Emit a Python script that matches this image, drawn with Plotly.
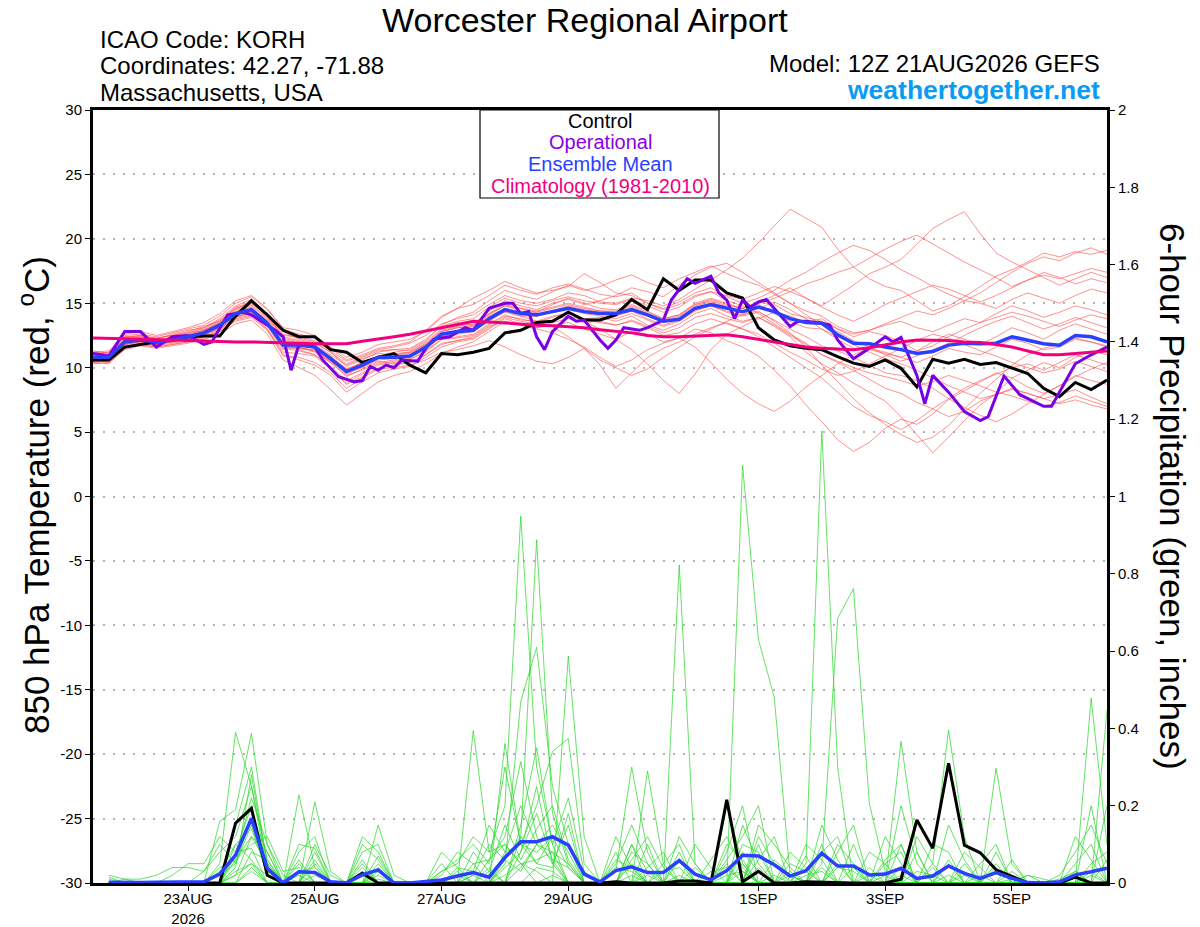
import pandas as pd
import plotly.graph_objects as go

# GEFS run 12Z 21AUG2026, 6-hourly steps out to 384h
run_start = pd.Timestamp("2026-08-21 12:00")
n_steps = 65

tick_dates = ["2026-08-23", "2026-08-25", "2026-08-27", "2026-08-29",
              "2026-09-01", "2026-09-03", "2026-09-05"]
tick_labels = ["23AUG<br>2026", "25AUG", "27AUG", "29AUG", "1SEP", "3SEP", "5SEP"]

temp_ticks = [-30, -25, -20, -15, -10, -5, 0, 5, 10, 15, 20, 25, 30]

# 850 hPa temperature (C), steps 0..64
control_temp = [
    10.6, 10.6, 11.6, 11.8, 12.0, 12.2, 12.4, 12.45, 12.45, 14.0,
    15.2, 14.1, 12.9, 12.4, 12.4, 11.4, 11.2, 10.4, 10.8, 11.1,
    10.2, 9.6, 11.1, 11.0, 11.2, 11.5, 12.7, 12.9, 13.5, 13.6,
    14.3, 13.7, 13.7, 14.1, 15.3, 14.5, 16.9, 16.0, 16.8, 16.8,
    15.8, 15.4, 13.1, 12.15, 11.7, 11.5, 11.4, 10.85, 10.35, 10.1,
    10.6, 9.95, 8.5, 10.65, 10.35, 10.65, 10.25, 10.4, 9.95, 9.55,
    8.4, 7.75, 8.85, 8.3, 9.05,
]

mean_temp = [
    10.8, 10.8, 12.0, 12.15, 12.0, 12.15, 12.4, 12.7, 13.3, 14.2,
    14.5, 13.45, 11.75, 11.75, 11.6, 10.7, 9.7, 10.2, 10.8, 10.8,
    10.9, 11.6, 12.6, 12.8, 12.9, 13.8, 14.5, 14.2, 14.1, 14.35,
    14.6, 14.35, 14.2, 14.2, 14.5, 14.1, 13.6, 13.75, 14.6, 14.9,
    14.6, 14.35, 14.7, 14.35, 13.8, 13.5, 13.45, 12.55, 11.9, 11.85,
    11.6, 11.4, 11.1, 11.25, 11.75, 11.9, 11.85, 11.9, 12.4, 12.15,
    11.85, 11.75, 12.5, 12.4, 12.0,
]

clim_temp = [
    12.3, 12.3, 12.25, 12.2, 12.2, 12.15, 12.1, 12.05, 12.05, 12.0,
    12.0, 11.95, 11.9, 11.9, 11.85, 11.85, 11.85, 12.05, 12.2, 12.4,
    12.6, 12.85, 13.05, 13.3, 13.6, 13.55, 13.45, 13.35, 13.3, 13.25,
    13.2, 13.1, 12.95, 12.85, 12.7, 12.5, 12.4, 12.4, 12.45, 12.55,
    12.55, 12.4, 12.2, 12.0, 11.75, 11.6, 11.5, 11.45, 11.4, 11.55,
    11.8, 12.0, 12.15, 12.15, 12.1, 12.0, 11.95, 11.8, 11.6, 11.3,
    11.0, 11.0, 11.1, 11.2, 11.3,
]

# operational run has its own (finer) output hours
op_hours = [
    0, 6, 12, 18, 24, 30, 36, 42, 45, 51, 57, 60, 69, 72, 75, 78, 84, 87,
    93, 99, 102, 105, 108, 111, 114, 117, 123, 126, 129, 135, 141, 144,
    150, 156, 159, 162, 165, 168, 171, 174, 180, 183, 186, 192, 195, 198,
    201, 207, 210, 216, 219, 225, 228, 234, 237, 240, 243, 246, 249, 252,
    255, 261, 264, 267, 270, 276, 279, 282, 288, 294, 300, 303, 306, 312,
    315, 318, 324, 330, 336, 339, 345, 351, 360, 363, 372, 378, 384,
]
op_temp = [
    11.1, 10.9, 12.8, 12.8, 11.6, 12.4, 12.5, 11.8, 12.0, 14.1, 14.3, 14.1,
    12.9, 12.4, 9.8, 11.8, 11.6, 10.6, 9.3, 8.9, 9.0, 10.1, 9.8, 10.2,
    10.0, 10.6, 10.5, 11.5, 12.2, 12.4, 13.1, 12.9, 14.6, 15.0, 15.0, 14.2,
    14.35, 12.4, 11.4, 12.8, 14.0, 13.6, 13.7, 12.15, 11.5, 12.15, 13.1,
    12.9, 13.1, 13.7, 15.25, 16.9, 16.55, 17.1, 15.8, 15.25, 13.8, 15.25,
    14.7, 15.1, 15.3, 13.95, 13.2, 13.6, 13.6, 13.45, 13.3, 12.15, 10.7,
    11.5, 12.4, 12.0, 12.35, 9.4, 7.2, 9.4, 8.1, 6.6, 5.9, 6.2, 9.35, 7.9,
    7.0, 7.0, 10.3, 11.0, 11.6,
]

temp_members = [
    [11.2, 11.0, 12.3, 12.5, 12.2, 12.6, 12.9, 13.1, 13.8,
     14.8, 15.3, 14.0, 12.5, 12.4, 12.1, 11.3, 10.5,
     10.9, 11.4, 11.6, 11.9, 12.5, 13.4, 13.8, 14.1,
     14.9, 15.6, 15.2, 15.0, 15.3, 15.8, 15.6, 15.1,
     15.0, 15.4, 15.2, 14.8, 15.3, 16.1, 16.8, 17.6, 18.5,
     19.7, 21.0, 22.3, 21.6, 20.9, 19.2, 17.8, 16.9, 16.3,
     16.0, 15.2, 14.4, 14.8, 15.5, 16.3, 17.1, 17.6,
     18.2, 18.9, 18.6, 19.0, 18.8, 19.1],
    [10.4, 10.5, 11.6, 11.9, 11.7, 11.9, 12.1, 12.4, 12.9,
     13.8, 14.1, 13.0, 11.0, 10.6, 10.2, 9.4, 8.1,
     8.9, 9.6, 9.9, 10.1, 10.8, 11.6, 12.0, 12.2,
     13.0, 13.8, 13.4, 13.1, 13.3, 13.5, 13.0, 12.6,
     12.2, 12.8, 12.6, 12.0, 12.3, 13.0, 12.7, 12.1, 11.6,
     10.9, 9.8, 8.6, 7.1, 5.8, 4.4, 3.5, 4.2, 5.3,
     6.0, 5.6, 6.4, 7.5, 8.2, 8.9, 9.6, 9.2,
     8.5, 8.0, 8.6, 9.4, 9.0, 8.7],
    [11.0, 11.2, 12.4, 12.4, 12.3, 12.5, 12.8, 13.2, 13.6,
     14.6, 15.0, 14.2, 12.8, 12.2, 11.9, 11.2, 10.1,
     10.6, 11.2, 11.4, 11.3, 12.0, 13.0, 13.5, 13.3,
     14.2, 14.8, 14.6, 14.3, 14.9, 15.4, 15.0, 14.6,
     14.5, 14.9, 14.4, 13.8, 14.1, 15.0, 15.4, 15.0, 14.6,
     15.1, 15.6, 16.2, 15.4, 14.8, 15.6, 16.4, 17.3, 17.8,
     18.4, 19.6, 20.8, 21.5, 22.1, 20.4, 18.9, 18.2,
     17.6, 17.0, 16.4, 16.9, 17.4, 17.0],
    [10.6, 10.7, 11.8, 12.0, 11.8, 12.0, 12.3, 12.5, 13.2,
     14.0, 14.6, 13.6, 11.8, 11.4, 11.0, 10.1, 9.0,
     9.6, 10.3, 10.5, 10.7, 11.2, 12.2, 12.4, 12.6,
     13.4, 14.1, 13.7, 13.6, 14.0, 14.2, 13.8, 13.9,
     13.6, 14.0, 13.3, 12.9, 13.4, 14.2, 14.6, 14.0, 13.6,
     13.9, 13.2, 12.4, 11.2, 10.3, 9.6, 8.8, 8.1, 7.4,
     6.2, 4.8, 3.4, 4.6, 5.9, 7.1, 8.0, 9.2,
     9.8, 10.4, 10.0, 10.8, 11.3, 11.0],
    [11.1, 10.9, 12.2, 12.4, 12.1, 12.3, 12.6, 12.9, 13.5,
     14.5, 14.9, 13.9, 12.3, 12.0, 11.7, 10.9, 9.9,
     10.3, 10.9, 11.2, 11.4, 12.1, 13.3, 13.9, 14.3,
     15.2, 16.0, 15.6, 15.3, 15.9, 16.4, 16.0, 16.3,
     16.8, 17.2, 16.6, 16.2, 16.9, 17.4, 17.9, 17.3, 16.8,
     16.4, 15.7, 15.0, 14.4, 14.0, 13.2, 12.7, 12.9, 13.4,
     13.9, 14.4, 14.1, 14.6, 15.2, 15.0, 14.6, 15.3,
     15.8, 15.4, 15.0, 15.6, 16.1, 15.8],
    [10.5, 10.6, 11.7, 11.9, 11.8, 12.0, 12.2, 12.6, 13.0,
     13.9, 14.2, 13.2, 11.4, 11.6, 11.2, 10.4, 9.3,
     9.9, 10.5, 10.3, 10.4, 11.0, 11.8, 12.1, 12.4,
     13.2, 13.6, 13.3, 13.0, 12.7, 12.2, 11.6, 10.8,
     10.1, 10.6, 11.4, 11.9, 12.3, 11.6, 10.4, 9.1, 8.0,
     7.2, 6.6, 7.4, 8.5, 9.4, 10.3, 11.0, 11.5, 11.2,
     10.8, 11.3, 12.0, 12.6, 12.2, 11.8, 12.4, 13.1,
     12.7, 12.2, 12.9, 13.4, 13.0, 12.6],
    [10.9, 10.8, 12.1, 12.2, 12.0, 12.1, 12.5, 12.8, 13.4,
     14.3, 14.7, 13.6, 11.9, 11.7, 11.5, 10.6, 9.6,
     10.1, 10.8, 10.7, 10.9, 11.6, 12.6, 12.9, 13.0,
     13.9, 14.6, 14.2, 14.0, 14.4, 14.8, 14.5, 14.3,
     14.1, 14.6, 14.0, 13.5, 13.9, 14.8, 15.1, 14.7, 14.3,
     14.9, 14.2, 13.6, 13.1, 13.0, 12.2, 11.5, 11.4, 11.1,
     10.8, 10.4, 10.9, 11.5, 11.2, 11.0, 11.6, 12.2,
     11.9, 11.4, 11.6, 12.2, 12.0, 11.7],
    [11.3, 11.1, 12.5, 12.6, 12.4, 12.7, 13.0, 13.3, 14.0,
     15.0, 15.5, 14.5, 13.1, 12.9, 12.5, 11.6, 10.8,
     11.2, 11.8, 12.0, 12.2, 12.8, 13.9, 14.6, 14.9,
     15.6, 16.4, 16.0, 15.7, 16.2, 16.5, 16.1, 15.7,
     15.5, 15.8, 15.0, 14.5, 14.9, 15.6, 15.9, 15.2, 14.8,
     14.2, 13.4, 12.6, 11.9, 11.0, 10.4, 9.8, 9.1, 8.4,
     8.0, 7.3, 6.8, 6.2, 6.6, 7.4, 7.9, 8.4,
     8.0, 7.6, 7.9, 8.3, 7.7, 7.2],
    [10.7, 10.9, 11.9, 12.1, 11.9, 12.2, 12.3, 12.7, 13.1,
     14.1, 14.4, 13.3, 11.5, 11.3, 11.0, 10.0, 8.8,
     9.5, 10.2, 10.4, 10.6, 11.3, 12.2, 12.3, 12.5,
     13.3, 14.0, 13.8, 13.5, 13.9, 14.3, 13.6, 13.0,
     12.2, 11.4, 10.3, 9.0, 8.0, 9.5, 11.4, 12.6, 13.2,
     13.8, 14.3, 14.0, 13.5, 13.8, 13.0, 12.4, 12.8, 12.5,
     12.0, 11.3, 11.7, 12.4, 13.0, 13.5, 14.2, 14.8,
     14.4, 13.9, 14.3, 14.8, 14.5, 14.1],
    [10.6, 10.4, 11.5, 11.8, 11.6, 11.8, 12.0, 12.3, 12.8,
     13.6, 13.9, 12.9, 10.9, 10.8, 10.4, 9.6, 8.4,
     9.2, 9.9, 10.0, 10.2, 10.6, 11.2, 11.4, 11.7,
     12.1, 11.6, 11.0, 10.5, 10.3, 10.8, 11.5, 10.2,
     8.4, 9.6, 10.8, 11.5, 12.0, 12.6, 13.1, 13.5, 13.0,
     12.4, 11.6, 10.8, 10.0, 9.2, 8.1, 7.0, 6.3, 5.8,
     5.2, 5.9, 6.8, 7.6, 8.4, 9.0, 9.5, 10.0,
     10.3, 9.8, 10.4, 11.0, 10.6, 10.2],
    [11.2, 11.3, 12.6, 12.8, 12.5, 12.8, 13.1, 13.5, 14.2,
     15.2, 15.6, 14.6, 13.0, 12.6, 12.3, 11.5, 10.6,
     11.0, 11.5, 11.7, 12.0, 12.9, 14.0, 14.6, 15.4,
     16.0, 16.7, 16.2, 15.8, 16.0, 16.3, 17.3, 16.6,
     15.8, 15.6, 15.0, 14.6, 15.1, 15.8, 16.2, 15.5, 15.0,
     15.4, 16.0, 16.8, 17.4, 18.2, 18.9, 19.5, 19.1, 18.4,
     17.6, 17.0, 16.3, 15.7, 15.2, 15.8, 16.6, 17.4,
     18.1, 18.6, 18.3, 18.9, 19.3, 18.8],
    [10.3, 10.4, 11.4, 11.7, 11.5, 11.7, 11.9, 12.2, 12.6,
     13.4, 13.7, 12.6, 10.6, 10.0, 9.4, 8.3, 7.1,
     8.0, 8.9, 9.4, 9.7, 10.3, 11.1, 11.6, 12.0,
     12.8, 13.6, 13.3, 13.1, 13.5, 13.8, 13.5, 13.6,
     13.3, 13.6, 13.1, 12.5, 12.7, 13.4, 13.8, 13.4, 13.0,
     12.6, 11.9, 11.2, 10.6, 9.9, 9.4, 9.7, 10.3, 10.9,
     11.5, 12.1, 12.6, 12.3, 11.8, 11.3, 10.9, 10.4,
     10.0, 9.6, 9.9, 10.5, 10.1, 9.7],
    [10.8, 11.0, 12.2, 12.3, 12.1, 12.4, 12.7, 13.0, 13.6,
     14.6, 15.0, 14.0, 12.4, 12.1, 11.8, 11.0, 10.2,
     10.7, 11.1, 11.0, 11.2, 11.9, 12.9, 13.2, 13.4,
     14.4, 15.2, 14.8, 14.5, 15.0, 15.3, 14.9, 15.2,
     15.6, 16.2, 15.9, 15.5, 16.4, 17.2, 17.8, 18.1, 17.4,
     16.6, 15.8, 15.0, 14.1, 13.3, 12.8, 12.1, 11.6, 11.0,
     10.5, 10.9, 11.4, 11.9, 12.5, 13.1, 13.6, 14.0,
     13.5, 13.0, 13.4, 13.9, 13.5, 13.1],
    [10.5, 10.7, 11.8, 12.0, 11.9, 12.0, 12.3, 12.6, 13.1,
     14.0, 14.3, 13.3, 11.6, 11.5, 11.3, 10.4, 9.4,
     9.8, 10.4, 10.6, 10.8, 11.4, 12.4, 12.6, 12.8,
     13.6, 14.4, 14.0, 14.0, 14.3, 14.5, 14.2, 14.0,
     13.8, 14.2, 13.7, 13.2, 13.6, 14.4, 14.8, 14.4, 14.1,
     14.4, 13.6, 12.7, 11.6, 10.2, 8.9, 7.6, 6.5, 5.6,
     4.8, 4.2, 4.6, 5.5, 6.8, 8.0, 9.1, 10.2,
     11.0, 11.5, 11.8, 12.3, 12.0, 11.6],
    [11.0, 10.8, 12.0, 12.3, 12.0, 12.2, 12.5, 12.9, 13.5,
     14.4, 14.8, 13.8, 12.2, 11.9, 11.7, 10.8, 9.8,
     10.4, 10.9, 11.1, 11.2, 11.8, 12.8, 13.1, 13.3,
     14.2, 14.9, 14.6, 14.4, 14.7, 15.0, 14.7, 14.4,
     14.3, 14.7, 14.2, 13.7, 14.0, 14.9, 15.3, 14.9, 14.6,
     15.0, 15.4, 15.9, 16.5, 16.9, 17.4, 17.8, 18.5, 19.2,
     19.8, 20.3, 19.6, 18.9, 18.2, 17.6, 17.0, 16.3,
     16.8, 17.4, 17.0, 16.5, 16.9, 16.6],
    [10.7, 10.6, 11.8, 12.1, 11.8, 12.0, 12.2, 12.5, 13.0,
     13.9, 14.3, 13.3, 11.7, 11.5, 11.4, 10.5, 9.5,
     10.0, 10.6, 10.7, 10.8, 11.5, 12.4, 12.7, 12.8,
     13.7, 14.3, 14.0, 13.6, 13.2, 12.4, 11.5, 10.6,
     10.0, 9.4, 9.9, 10.8, 11.6, 12.4, 13.0, 13.6, 14.1,
     14.6, 15.1, 14.5, 13.8, 13.0, 12.4, 11.8, 11.2, 10.7,
     10.3, 9.8, 9.2, 8.6, 8.1, 7.6, 7.9, 8.3,
     8.0, 7.6, 7.2, 7.5, 7.1, 6.8],
    [10.9, 11.0, 12.2, 12.3, 12.1, 12.3, 12.6, 12.9, 13.4,
     14.3, 14.6, 13.7, 12.0, 11.9, 11.7, 10.8, 9.9,
     10.4, 10.9, 11.0, 11.1, 11.8, 12.8, 13.1, 13.2,
     14.1, 14.8, 14.4, 14.3, 14.6, 14.9, 14.6, 14.4,
     14.4, 14.8, 14.3, 13.8, 14.1, 14.9, 15.2, 14.8, 14.6,
     15.1, 14.9, 14.2, 13.9, 13.6, 13.0, 12.6, 12.9, 13.3,
     13.6, 13.1, 12.8, 13.3, 13.8, 13.5, 13.9, 14.3,
     14.0, 13.6, 13.2, 13.7, 14.1, 13.8],
    [10.6, 10.8, 11.9, 12.0, 11.9, 12.1, 12.4, 12.7, 13.2,
     14.1, 14.4, 13.4, 11.8, 11.6, 11.3, 10.5, 9.6,
     10.1, 10.7, 10.8, 10.9, 11.6, 12.6, 12.9, 13.1,
     14.0, 14.6, 14.3, 14.0, 14.4, 14.7, 14.4, 14.2,
     14.0, 14.4, 13.8, 13.3, 13.7, 14.5, 14.8, 14.3, 14.0,
     14.3, 13.7, 13.0, 12.4, 11.7, 11.3, 10.8, 10.2, 9.6,
     9.4, 9.0, 8.4, 7.6, 6.9, 6.3, 5.8, 6.4,
     7.2, 7.9, 8.6, 9.3, 9.9, 10.4],
    [11.1, 11.2, 12.4, 12.5, 12.3, 12.5, 12.7, 13.1, 13.7,
     14.7, 15.1, 14.1, 12.6, 12.3, 12.0, 11.2, 10.3,
     10.8, 11.3, 11.4, 11.5, 12.2, 13.2, 13.6, 13.8,
     14.7, 15.4, 15.0, 14.8, 15.2, 15.5, 15.2, 15.0,
     14.9, 15.3, 14.8, 14.3, 14.7, 15.5, 15.9, 15.6, 15.3,
     15.8, 16.3, 15.9, 15.4, 14.7, 14.1, 13.6, 14.2, 14.9,
     15.4, 15.9, 16.4, 16.1, 15.6, 15.1, 15.6, 16.2,
     16.8, 17.2, 16.9, 17.3, 17.7, 17.4],
    [10.4, 10.3, 11.5, 11.8, 11.6, 11.8, 12.0, 12.4, 12.8,
     13.7, 14.0, 13.0, 11.2, 11.1, 10.9, 9.9, 8.7,
     9.3, 10.0, 10.2, 10.4, 11.0, 11.9, 12.1, 12.3,
     13.1, 13.9, 13.6, 13.4, 13.7, 14.0, 13.7, 13.5,
     13.3, 13.7, 13.2, 12.7, 13.1, 13.9, 14.2, 13.8, 13.5,
     13.9, 13.3, 12.5, 11.8, 11.0, 10.5, 10.0, 9.6, 9.3,
     9.0, 8.6, 8.9, 9.4, 9.0, 8.6, 8.1, 7.8,
     7.4, 7.0, 7.3, 7.8, 7.4, 7.0],
]

# 6-hour precipitation (inches), steps 1..64
control_precip = [
    0, 0, 0, 0, 0, 0, 0, 0,
    0.155, 0.193, 0.02, 0, 0, 0, 0, 0,
    0.025, 0, 0, 0, 0, 0, 0, 0,
    0, 0, 0, 0, 0, 0, 0, 0,
    0.003, 0, 0, 0, 0.005, 0.005, 0, 0.215,
    0.003, 0.03, 0, 0, 0.003, 0.002, 0, 0,
    0, 0, 0.01, 0.163, 0.09, 0.31, 0.098, 0.078,
    0.034, 0.016, 0, 0, 0, 0.015, 0, 0,
]

mean_precip = [
    0.002, 0.001, 0.001, 0.002, 0.003, 0.003, 0.003, 0.023,
    0.072, 0.167, 0.038, 0, 0.029, 0.027, 0.003, 0,
    0.021, 0.034, 0, 0, 0.003, 0.008, 0.018, 0.027,
    0.015, 0.066, 0.107, 0.107, 0.12, 0.098, 0.023, 0.003,
    0.032, 0.042, 0.027, 0.027, 0.058, 0.023, 0.008, 0.032,
    0.072, 0.07, 0.047, 0.018, 0.032, 0.077, 0.044, 0.044,
    0.021, 0.023, 0.038, 0.012, 0.018, 0.044, 0.025, 0.012,
    0.027, 0.012, 0.001, 0, 0.003, 0.021, 0.029, 0.038,
]

# members: only the non-zero 6h totals, keyed by step number
precip_members = [
    {1: .01, 8: .05, 9: .39, 10: .25, 11: .06, 13: .02, 22: .03, 23: .05, 24: .12,
     25: .08, 26: .20, 27: .95, 28: .30, 29: .10, 34: .05, 37: .08, 41: .15, 42: .05,
     46: .10, 51: .02, 54: .06, 63: .02},
    {8: .16, 9: .19, 10: .387, 11: .10, 14: .05, 17: .04, 24: .02, 25: .10, 26: .06,
     27: .12, 28: .888, 29: .18, 30: .05, 33: .03, 34: .30, 35: .08, 40: .20, 41: .05,
     44: .03, 47: .10, 48: .05, 52: .08, 57: .04},
    {9: .15, 10: .30, 11: .05, 13: .228, 14: .04, 18: .15, 19: .02, 23: .02, 26: .05,
     27: .47, 28: .61, 29: .25, 30: .10, 35: .29, 36: .05, 41: 1.08, 42: .63, 43: .48,
     44: .02, 48: .04, 55: .05, 62: .03},
    {7: .03, 8: .08, 9: .12, 10: .25, 11: .03, 14: .21, 15: .03, 17: .10, 18: .06,
     24: .394, 25: .08, 26: .10, 27: .05, 30: .587, 31: .12, 37: .823, 38: .05, 42: .10,
     45: .05, 46: 1.17, 47: .30, 51: .10, 63: .478, 64: .10},
    {9: .07, 10: .22, 11: .10, 12: .02, 17: .08, 18: .10, 22: .05, 26: .361, 27: .10,
     28: .20, 29: .34, 30: .374, 31: .05, 34: .10, 35: .03, 40: .08, 41: .20, 46: .05,
     47: .685, 48: .762, 49: .206, 50: .03, 54: .02, 64: .448},
    {2: .01, 3: .01, 4: .02, 5: .04, 6: .04, 7: .03, 8: .10, 9: .05, 10: .15, 11: .02,
     13: .10, 14: .09, 18: .04, 25: .06, 26: .12, 27: .314, 28: .12, 29: .05, 33: .12,
     34: .04, 38: .10, 39: .04, 42: .12, 43: .05, 51: .366, 52: .08, 57: .297, 58: .05},
    {9: .02, 10: .12, 11: .05, 13: .05, 17: .12, 18: .08, 22: .03, 23: .06, 24: .10,
     25: .05, 26: .30, 27: .10, 28: .08, 29: .12, 30: .04, 33: .05, 34: .15, 35: .05,
     40: .05, 44: .05, 45: .03, 49: .04, 53: .05, 54: .396, 55: .12, 62: .05, 63: .10},
    {5: .02, 6: .05, 7: .05, 8: .12, 9: .08, 10: .20, 11: .04, 14: .06, 18: .07, 23: .04,
     24: .03, 25: .15, 26: .08, 27: .20, 28: .10, 29: .15, 30: .08, 36: .05, 37: .10,
     41: .10, 42: .08, 46: .08, 47: .12, 50: .05, 51: .08, 56: .05, 57: .10, 61: .02,
     62: .08, 63: .15, 64: .05},
    {8: .02, 9: .05, 10: .17, 11: .08, 13: .08, 14: .12, 17: .05, 26: .04, 27: .08,
     28: .25, 29: .05, 30: .15, 34: .06, 35: .12, 36: .04, 39: .06, 40: .12, 41: .04,
     45: .07, 52: .12, 53: .05, 58: .03},
    {9: .10, 10: .14, 11: .03, 18: .05, 22: .08, 23: .04, 27: .15, 28: .35, 29: .10,
     30: .22, 31: .03, 33: .08, 37: .12, 38: .05, 42: .15, 43: .10, 44: .04, 47: .05,
     50: .12, 51: .05, 55: .08, 56: .04, 64: .20},
    {10: .08, 11: .06, 14: .08, 17: .03, 24: .05, 25: .06, 26: .10, 27: .05, 28: .06,
     29: .08, 34: .10, 40: .06, 41: .12, 42: .20, 45: .10, 46: .06, 48: .10, 54: .15,
     55: .06, 62: .12, 63: .06},
    {8: .04, 9: .06, 10: .10, 11: .12, 12: .03, 13: .04, 18: .03, 25: .03, 26: .15,
     27: .06, 28: .14, 29: .20, 30: .06, 35: .04, 36: .08, 41: .05, 44: .08, 45: .04,
     49: .08, 50: .05, 53: .10, 54: .08, 59: .02, 63: .20},
    {1: .02, 2: .01, 9: .03, 10: .05, 11: .02, 17: .06, 24: .02, 26: .08, 27: .10,
     28: .05, 29: .12, 30: .10, 31: .02, 34: .08, 35: .05, 40: .10, 41: .06, 46: .15,
     47: .06, 51: .20, 52: .05, 57: .08},
    {9: .08, 10: .09, 13: .03, 14: .04, 23: .03, 25: .04, 27: .08, 28: .18, 29: .06,
     33: .04, 34: .03, 37: .06, 42: .06, 43: .12, 47: .08, 48: .15, 54: .05, 58: .06,
     63: .05, 64: .08},
    {8: .03, 9: .10, 10: .06, 18: .02, 26: .06, 27: .03, 28: .10, 29: .08, 30: .05,
     35: .10, 39: .03, 40: .04, 43: .06, 44: .02, 50: .06, 51: .10, 55: .03, 61: .01,
     62: .03},
    {9: .04, 10: .28, 11: .04, 14: .02, 17: .02, 18: .03, 27: .12, 28: .05, 29: .04,
     30: .18, 36: .03, 37: .04, 41: .08, 42: .03, 46: .04, 52: .03, 53: .02, 57: .05,
     64: .06},
    {10: .04, 13: .06, 24: .08, 25: .03, 28: .04, 29: .03, 34: .02, 38: .04, 42: .04,
     45: .02, 46: .03, 51: .04, 56: .02},
    {9: .06, 10: .12, 11: .08, 14: .10, 15: .02, 22: .02, 23: .08, 24: .05, 27: .04,
     28: .10, 29: .06, 30: .04, 33: .06, 34: .04, 41: .03, 47: .04, 48: .03, 53: .04,
     59: .02, 60: .01},
    {1: .015, 9: .02, 10: .05, 17: .02, 26: .02, 27: .05, 28: .03, 35: .02, 40: .02,
     41: .03, 44: .02, 50: .02, 55: .02, 63: .03},
    {10: .03, 18: .01, 29: .02, 37: .02, 43: .02, 49: .02, 58: .01, 62: .02},
]

times = pd.date_range(run_start, periods=n_steps, freq="6h")
precip_times = times[1:]
op_times = [run_start + pd.Timedelta(hours=h) for h in op_hours]

# plot box in page pixels; the page body adds an 8px offset
PLOT_L, PLOT_R, PLOT_T, PLOT_B = 93, 1107, 110, 883
BODY = 8
W, H = 1200, 927


def px(x):
    return (x - PLOT_L) / (PLOT_R - PLOT_L)


def py(y):
    return (PLOT_B - y) / (PLOT_B - PLOT_T)


FONT = "Liberation Sans, Arial, Helvetica, sans-serif"

fig = go.Figure()

for member in temp_members:
    fig.add_trace(go.Scatter(
        x=times, y=member, mode="lines",
        line=dict(color="rgba(255,70,70,0.75)", width=0.8),
        hoverinfo="skip"
    ))

for member in precip_members:
    values = [member.get(step, 0) for step in range(1, n_steps)]
    fig.add_trace(go.Scatter(
        x=precip_times, y=values, mode="lines", yaxis="y2",
        line=dict(color="rgba(40,215,40,0.9)", width=0.8),
        hoverinfo="skip"
    ))

fig.add_trace(go.Scatter(
    x=precip_times, y=control_precip, mode="lines", yaxis="y2",
    line=dict(color="black", width=3)
))
fig.add_trace(go.Scatter(
    x=precip_times, y=mean_precip, mode="lines", yaxis="y2",
    line=dict(color="#2a40ff", width=3.5)
))

fig.add_trace(go.Scatter(
    x=times, y=control_temp, mode="lines",
    line=dict(color="black", width=3)
))
fig.add_trace(go.Scatter(
    x=op_times, y=op_temp, mode="lines",
    line=dict(color="#7a00e6", width=3)
))
fig.add_trace(go.Scatter(
    x=times, y=mean_temp, mode="lines",
    line=dict(color="#2a40ff", width=3.5)
))
fig.add_trace(go.Scatter(
    x=times, y=clim_temp, mode="lines",
    line=dict(color="#f0007f", width=3)
))

# legend box
fig.add_shape(
    type="rect", xref="paper", yref="paper",
    x0=px(480), x1=px(719), y0=py(198), y1=1,
    line=dict(color="black", width=1.2), fillcolor="white", layer="above"
)

legend_rows = [
    ("Control", "black", 121),
    ("Operational", "#8a00e6", 142),
    ("Ensemble Mean", "#2a40ff", 164),
    ("Climatology (1981-2010)", "#f0007f", 186),
]
for text, color, ypix in legend_rows:
    fig.add_annotation(
        text=text, xref="paper", yref="paper", x=px(600), y=py(ypix),
        showarrow=False, font=dict(family=FONT, size=20, color=color),
        xanchor="center", yanchor="middle"
    )

header = [
    ("Worcester Regional Airport", 585, 20, "center", 34, "black"),
    ("ICAO Code: KORH", 98, 40, "left", 24, "black"),
    ("Coordinates: 42.27, -71.88", 98, 66, "left", 24, "black"),
    ("Massachusetts, USA", 98, 93, "left", 24, "black"),
    ("Model: 12Z 21AUG2026 GEFS", 1102, 63, "right", 24, "black"),
    ("<b>weathertogether.net</b>", 1102, 90, "right", 26.5, "#0a9cf5"),
]
for text, xpix, ypix, anchor, size, color in header:
    fig.add_annotation(
        text=text, xref="paper", yref="paper", x=px(xpix), y=py(ypix),
        showarrow=False, font=dict(family=FONT, size=size, color=color),
        xanchor=anchor, yanchor="middle"
    )

fig.add_annotation(
    text="850 hPa Temperature (red, <sup>o</sup>C)",
    xref="paper", yref="paper", x=px(34), y=py(495), textangle=-90,
    xanchor="center", yanchor="middle",
    showarrow=False, font=dict(family=FONT, size=35, color="black")
)
fig.add_annotation(
    text="6-hour Precipitation (green, inches)",
    xref="paper", yref="paper", x=px(1173), y=py(496), textangle=90,
    xanchor="center", yanchor="middle",
    showarrow=False, font=dict(family=FONT, size=35, color="black")
)

fig.update_layout(
    width=W,
    height=H,
    showlegend=False,
    paper_bgcolor="white",
    plot_bgcolor="white",
    font=dict(family=FONT, color="black"),
    margin=dict(l=PLOT_L - BODY, r=W - PLOT_R + BODY,
                t=PLOT_T - BODY, b=H - PLOT_B + BODY),
    xaxis=dict(
        type="date",
        range=[run_start, run_start + pd.Timedelta(days=16)],
        tickvals=pd.to_datetime(tick_dates),
        ticktext=tick_labels,
        ticks="outside", ticklen=5, tickwidth=1, tickcolor="black",
        tickfont=dict(size=15), ticklabelstandoff=-5,
        showline=True, linewidth=3, linecolor="black", mirror=True,
        showgrid=False, zeroline=False, automargin=False,
    ),
    yaxis=dict(
        range=[-30, 30],
        tickvals=temp_ticks,
        ticktext=[str(t) for t in temp_ticks],
        ticks="outside", ticklen=5, tickwidth=1, tickcolor="black",
        tickfont=dict(size=15),
        showline=True, linewidth=3, linecolor="black", mirror=True,
        showgrid=True, gridcolor="#b4b4b4", gridwidth=1.5, griddash="2px,8px",
        zeroline=False, automargin=False,
    ),
    yaxis2=dict(
        range=[0, 2], dtick=0.2, overlaying="y", side="right",
        ticks="outside", ticklen=5, tickwidth=1, tickcolor="black",
        tickfont=dict(size=15),
        showline=True, linewidth=3, linecolor="black",
        showgrid=False, zeroline=False, automargin=False,
    ),
)

fig.write_html("out.html")
